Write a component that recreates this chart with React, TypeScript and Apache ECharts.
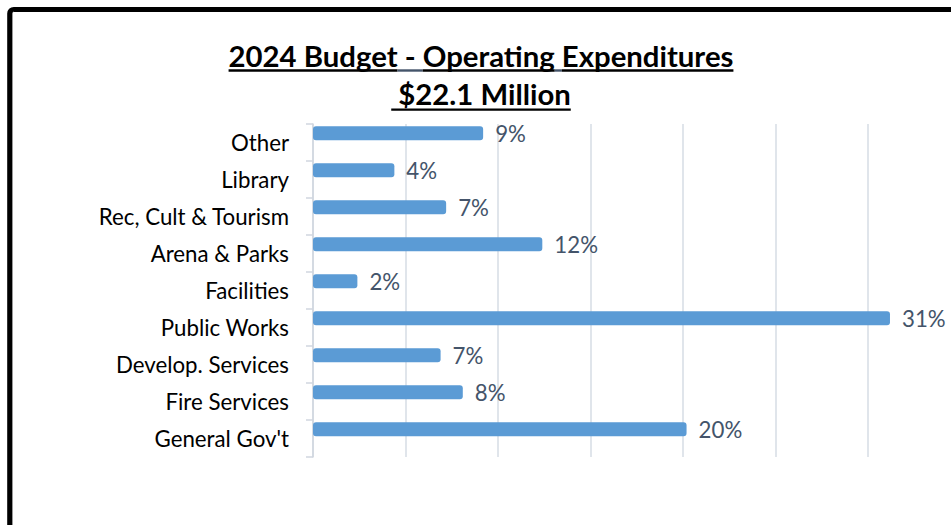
import React, { useEffect, useRef } from "react";
import * as echarts from "echarts";

// ---- data ----
const categories: string[] = [
  "Other",
  "Library",
  "Rec, Cult & Tourism",
  "Arena & Parks",
  "Facilities",
  "Public Works",
  "Develop. Services",
  "Fire Services",
  "General Gov't",
];
const shares: number[] = [9.2, 4.4, 7.2, 12.4, 2.4, 31.2, 6.9, 8.1, 20.2];
const axisMin = 0;
const axisMax = 34.5; // the chart is cropped at the right edge
const axisStep = 5;
const titleParts: string[] = ["2024 Budget", " - ", "Operating", " ", "Expenditures"];
const subtitle = " $22.1 Million";

const FAMILY = "Lato, 'Open Sans', 'DejaVu Sans', sans-serif";

export default function App() {
  const ref = useRef<HTMLDivElement>(null);

  useEffect(() => {
    const el = ref.current;
    if (!el) return;
    const chart = echarts.init(el, null, { renderer: "svg" });

    const ctx = document.createElement("canvas").getContext("2d")!;
    const measure = (t: string, size: number, weight = "normal") => {
      ctx.font = `${weight} ${size}px ${FAMILY}`;
      return ctx.measureText(t).width;
    };

    const titleText = titleParts.join("");
    const titleSize = (24 * 505) / measure(titleText, 24, "bold");
    const labelSize = (20 * 191) / measure(categories[2], 20);

    const cx = 481;
    const tW = measure(titleText, titleSize, "bold");
    const tX0 = cx - tW / 2;
    const segColors = ["#000", "#44546A", "#000", "#44546A", "#000"];
    const underlines: any[] = [];
    let acc = "";
    titleParts.forEach((p, i) => {
      const start = measure(acc, titleSize, "bold");
      acc += p;
      const end = measure(acc, titleSize, "bold");
      underlines.push({
        type: "rect",
        shape: { x: tX0 + start, y: 69.3, width: end - start, height: 2.4 },
        style: { fill: segColors[i] },
        silent: true,
      });
    });
    const sW = measure(subtitle, titleSize, "bold");
    underlines.push({
      type: "rect",
      shape: { x: cx - sW / 2, y: 108.4, width: sW, height: 2.4 },
      style: { fill: "#000" },
      silent: true,
    });

    chart.setOption({
      animation: false,
      backgroundColor: "#fff",
      grid: { left: 313, top: 124, right: 0, height: 333, containLabel: false },
      xAxis: {
        type: "value",
        min: axisMin,
        max: axisMax,
        interval: axisStep,
        axisLabel: { show: false },
        axisLine: { show: false },
        axisTick: { show: false },
        splitLine: {
          show: true,
          showMaxLine: false,
          lineStyle: { color: "#D6DCE4", width: 1.5 },
        },
      },
      yAxis: {
        type: "category",
        data: categories,
        inverse: true,
        axisLine: { show: true, lineStyle: { color: "#D0D6DF", width: 1.5 } },
        axisTick: { show: true, length: 7, lineStyle: { color: "#D0D6DF", width: 1.5 } },
        axisLabel: {
          margin: 24,
          fontSize: labelSize,
          color: "#000",
          fontFamily: FAMILY,
        },
        splitLine: { show: false },
      },
      series: [
        {
          type: "bar",
          data: shares,
          barWidth: 14,
          barGap: "32%",
          itemStyle: { color: "#5B9BD5", borderRadius: 3 },
          label: {
            show: true,
            position: "right",
            distance: 12,
            formatter: (p: any) => `${Math.round(p.value)}%`,
            color: "#44546A",
            fontSize: labelSize,
            fontFamily: FAMILY,
          },
        },
        {
          type: "bar",
          data: categories.map(() => null),
          barWidth: 14,
          silent: true,
        },
      ],
      graphic: [
        {
          type: "rect",
          shape: { x: 9.8, y: 9.5, width: 1000, height: 600, r: 4 },
          style: { fill: "none", stroke: "#000", lineWidth: 5.2 },
          silent: true,
          z: 100,
        },
        {
          type: "text",
          x: cx,
          y: 55.8,
          style: {
            text: titleText,
            font: `bold ${titleSize}px ${FAMILY}`,
            fill: "#000",
            align: "center",
            verticalAlign: "middle",
          },
          silent: true,
        },
        {
          type: "text",
          x: cx,
          y: 93.6,
          style: {
            text: subtitle,
            font: `bold ${titleSize}px ${FAMILY}`,
            fill: "#000",
            align: "center",
            verticalAlign: "middle",
          },
          silent: true,
        },
        ...underlines,
      ],
    });

    return () => chart.dispose();
  }, []);

  return (
    <div
      ref={ref}
      style={{ position: "fixed", left: 0, top: 0, width: 951, height: 525, background: "#fff" }}
    />
  );
}
